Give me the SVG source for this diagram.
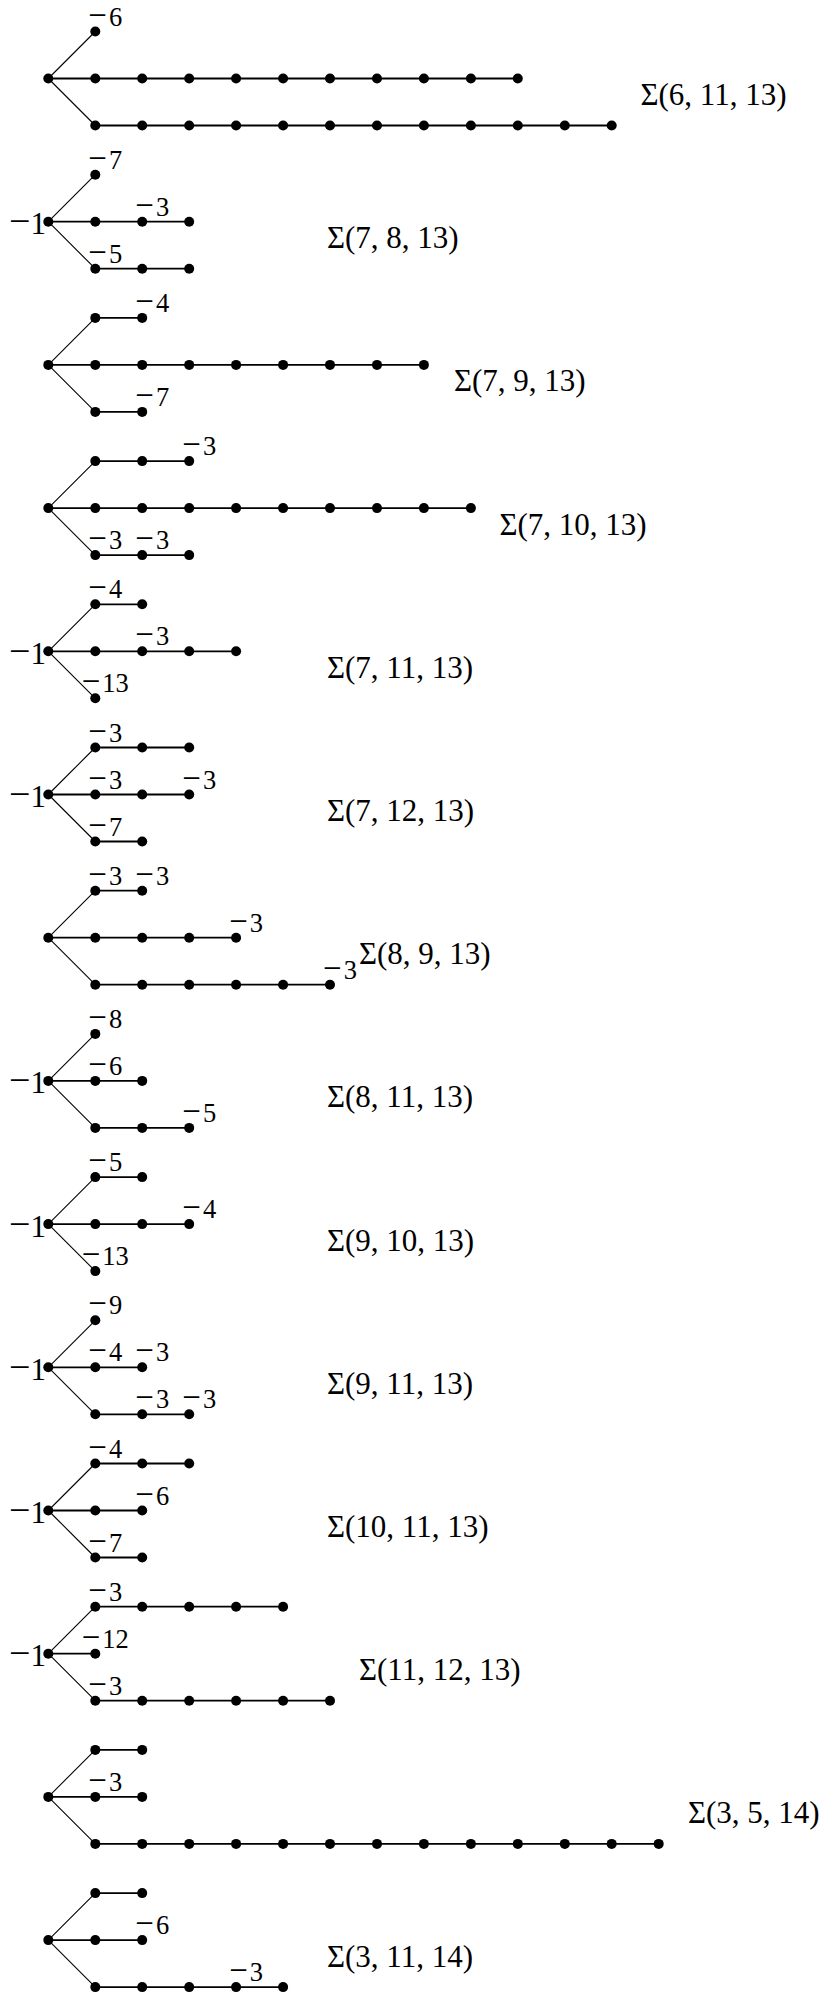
<svg xmlns="http://www.w3.org/2000/svg" width="826" height="1993" viewBox="0 0 826 1993">
<style>
.e{stroke:#000;stroke-width:1.8;fill:none}
.d{stroke:#000;stroke-width:1.1;fill:none}
circle{fill:#000}
text{font-family:"Liberation Serif","Times New Roman",serif;fill:#000}
.s{font-size:26.5px;text-anchor:middle}
.m{font-size:33px}
.r{font-size:31px;text-anchor:end}
.rm{font-size:38px}
.L{font-size:31px}
</style>
<rect width="826" height="1993" fill="#fff"/>
<g id="connectors">
<g transform="translate(0,78.5)"><path class="d" d="M48.3 0L95.3-47M48.3 0L95.3 47"/><path class="e" d="M48.3 0H517.8M95.3 47H611.7"/></g>
<g transform="translate(0,221.7)"><path class="d" d="M48.3 0L95.3-47M48.3 0L95.3 47"/><path class="e" d="M48.3 0H189.2M95.3 47H189.2"/></g>
<g transform="translate(0,364.9)"><path class="d" d="M48.3 0L95.3-47M48.3 0L95.3 47"/><path class="e" d="M95.3-47H142.2M48.3 0H423.9M95.3 47H142.2"/></g>
<g transform="translate(0,508.1)"><path class="d" d="M48.3 0L95.3-47M48.3 0L95.3 47"/><path class="e" d="M95.3-47H189.2M48.3 0H470.9M95.3 47H189.2"/></g>
<g transform="translate(0,651.3)"><path class="d" d="M48.3 0L95.3-47M48.3 0L95.3 47"/><path class="e" d="M95.3-47H142.2M48.3 0H236.1"/></g>
<g transform="translate(0,794.5)"><path class="d" d="M48.3 0L95.3-47M48.3 0L95.3 47"/><path class="e" d="M95.3-47H189.2M48.3 0H189.2M95.3 47H142.2"/></g>
<g transform="translate(0,937.7)"><path class="d" d="M48.3 0L95.3-47M48.3 0L95.3 47"/><path class="e" d="M95.3-47H142.2M48.3 0H236.1M95.3 47H330"/></g>
<g transform="translate(0,1080.9)"><path class="d" d="M48.3 0L95.3-47M48.3 0L95.3 47"/><path class="e" d="M48.3 0H142.2M95.3 47H189.2"/></g>
<g transform="translate(0,1224.1)"><path class="d" d="M48.3 0L95.3-47M48.3 0L95.3 47"/><path class="e" d="M95.3-47H142.2M48.3 0H189.2"/></g>
<g transform="translate(0,1367.3)"><path class="d" d="M48.3 0L95.3-47M48.3 0L95.3 47"/><path class="e" d="M48.3 0H142.2M95.3 47H189.2"/></g>
<g transform="translate(0,1510.5)"><path class="d" d="M48.3 0L95.3-47M48.3 0L95.3 47"/><path class="e" d="M95.3-47H189.2M48.3 0H142.2M95.3 47H142.2"/></g>
<g transform="translate(0,1653.7)"><path class="d" d="M48.3 0L95.3-47M48.3 0L95.3 47"/><path class="e" d="M95.3-47H283.1M48.3 0H95.3M95.3 47H330"/></g>
<g transform="translate(0,1796.9)"><path class="d" d="M48.3 0L95.3-47M48.3 0L95.3 47"/><path class="e" d="M95.3-47H142.2M48.3 0H142.2M95.3 47H658.7"/></g>
<g transform="translate(0,1940.1)"><path class="d" d="M48.3 0L95.3-47M48.3 0L95.3 47"/><path class="e" d="M95.3-47H142.2M48.3 0H142.2M95.3 47H283.1"/></g>
</g>

<g id="diagram1" transform="translate(0,78.5)">
<g id="d1-root"><circle cx="48.3" cy="0" r="5"/></g>
<g id="d1-t1"><circle cx="95.3" cy="-47" r="5"/><text class="s" x="105.3" y="-53"><tspan class="m">−</tspan><tspan dx="2">6</tspan></text></g>
<g id="d1-m1"><circle cx="95.3" cy="0" r="5"/></g>
<g id="d1-m2"><circle cx="142.2" cy="0" r="5"/></g>
<g id="d1-m3"><circle cx="189.2" cy="0" r="5"/></g>
<g id="d1-m4"><circle cx="236.1" cy="0" r="5"/></g>
<g id="d1-m5"><circle cx="283.1" cy="0" r="5"/></g>
<g id="d1-m6"><circle cx="330" cy="0" r="5"/></g>
<g id="d1-m7"><circle cx="377" cy="0" r="5"/></g>
<g id="d1-m8"><circle cx="423.9" cy="0" r="5"/></g>
<g id="d1-m9"><circle cx="470.9" cy="0" r="5"/></g>
<g id="d1-m10"><circle cx="517.8" cy="0" r="5"/></g>
<g id="d1-b1"><circle cx="95.3" cy="47" r="5"/></g>
<g id="d1-b2"><circle cx="142.2" cy="47" r="5"/></g>
<g id="d1-b3"><circle cx="189.2" cy="47" r="5"/></g>
<g id="d1-b4"><circle cx="236.1" cy="47" r="5"/></g>
<g id="d1-b5"><circle cx="283.1" cy="47" r="5"/></g>
<g id="d1-b6"><circle cx="330" cy="47" r="5"/></g>
<g id="d1-b7"><circle cx="377" cy="47" r="5"/></g>
<g id="d1-b8"><circle cx="423.9" cy="47" r="5"/></g>
<g id="d1-b9"><circle cx="470.9" cy="47" r="5"/></g>
<g id="d1-b10"><circle cx="517.8" cy="47" r="5"/></g>
<g id="d1-b11"><circle cx="564.8" cy="47" r="5"/></g>
<g id="d1-b12"><circle cx="611.7" cy="47" r="5"/></g>
<g id="d1-title"><text class="L" x="640.5" y="26.5">Σ(6, 11, 13)</text></g>
</g>

<g id="diagram2" transform="translate(0,221.7)">
<g id="d2-root"><circle cx="48.3" cy="0" r="5"/><text class="r" x="46" y="12.5"><tspan class="rm">−</tspan>1</text></g>
<g id="d2-t1"><circle cx="95.3" cy="-47" r="5"/><text class="s" x="105.3" y="-53"><tspan class="m">−</tspan><tspan dx="2">7</tspan></text></g>
<g id="d2-m1"><circle cx="95.3" cy="0" r="5"/></g>
<g id="d2-m2"><circle cx="142.2" cy="0" r="5"/><text class="s" x="152.2" y="-6"><tspan class="m">−</tspan><tspan dx="2">3</tspan></text></g>
<g id="d2-m3"><circle cx="189.2" cy="0" r="5"/></g>
<g id="d2-b1"><circle cx="95.3" cy="47" r="5"/><text class="s" x="105.3" y="41"><tspan class="m">−</tspan><tspan dx="2">5</tspan></text></g>
<g id="d2-b2"><circle cx="142.2" cy="47" r="5"/></g>
<g id="d2-b3"><circle cx="189.2" cy="47" r="5"/></g>
<g id="d2-title"><text class="L" x="327" y="26.5">Σ(7, 8, 13)</text></g>
</g>

<g id="diagram3" transform="translate(0,364.9)">
<g id="d3-root"><circle cx="48.3" cy="0" r="5"/></g>
<g id="d3-t1"><circle cx="95.3" cy="-47" r="5"/></g>
<g id="d3-t2"><circle cx="142.2" cy="-47" r="5"/><text class="s" x="152.2" y="-53"><tspan class="m">−</tspan><tspan dx="2">4</tspan></text></g>
<g id="d3-m1"><circle cx="95.3" cy="0" r="5"/></g>
<g id="d3-m2"><circle cx="142.2" cy="0" r="5"/></g>
<g id="d3-m3"><circle cx="189.2" cy="0" r="5"/></g>
<g id="d3-m4"><circle cx="236.1" cy="0" r="5"/></g>
<g id="d3-m5"><circle cx="283.1" cy="0" r="5"/></g>
<g id="d3-m6"><circle cx="330" cy="0" r="5"/></g>
<g id="d3-m7"><circle cx="377" cy="0" r="5"/></g>
<g id="d3-m8"><circle cx="423.9" cy="0" r="5"/></g>
<g id="d3-b1"><circle cx="95.3" cy="47" r="5"/></g>
<g id="d3-b2"><circle cx="142.2" cy="47" r="5"/><text class="s" x="152.2" y="41"><tspan class="m">−</tspan><tspan dx="2">7</tspan></text></g>
<g id="d3-title"><text class="L" x="454" y="26.5">Σ(7, 9, 13)</text></g>
</g>

<g id="diagram4" transform="translate(0,508.1)">
<g id="d4-root"><circle cx="48.3" cy="0" r="5"/></g>
<g id="d4-t1"><circle cx="95.3" cy="-47" r="5"/></g>
<g id="d4-t2"><circle cx="142.2" cy="-47" r="5"/></g>
<g id="d4-t3"><circle cx="189.2" cy="-47" r="5"/><text class="s" x="199.2" y="-53"><tspan class="m">−</tspan><tspan dx="2">3</tspan></text></g>
<g id="d4-m1"><circle cx="95.3" cy="0" r="5"/></g>
<g id="d4-m2"><circle cx="142.2" cy="0" r="5"/></g>
<g id="d4-m3"><circle cx="189.2" cy="0" r="5"/></g>
<g id="d4-m4"><circle cx="236.1" cy="0" r="5"/></g>
<g id="d4-m5"><circle cx="283.1" cy="0" r="5"/></g>
<g id="d4-m6"><circle cx="330" cy="0" r="5"/></g>
<g id="d4-m7"><circle cx="377" cy="0" r="5"/></g>
<g id="d4-m8"><circle cx="423.9" cy="0" r="5"/></g>
<g id="d4-m9"><circle cx="470.9" cy="0" r="5"/></g>
<g id="d4-b1"><circle cx="95.3" cy="47" r="5"/><text class="s" x="105.3" y="41"><tspan class="m">−</tspan><tspan dx="2">3</tspan></text></g>
<g id="d4-b2"><circle cx="142.2" cy="47" r="5"/><text class="s" x="152.2" y="41"><tspan class="m">−</tspan><tspan dx="2">3</tspan></text></g>
<g id="d4-b3"><circle cx="189.2" cy="47" r="5"/></g>
<g id="d4-title"><text class="L" x="499.5" y="26.5">Σ(7, 10, 13)</text></g>
</g>

<g id="diagram5" transform="translate(0,651.3)">
<g id="d5-root"><circle cx="48.3" cy="0" r="5"/><text class="r" x="46" y="12.5"><tspan class="rm">−</tspan>1</text></g>
<g id="d5-t1"><circle cx="95.3" cy="-47" r="5"/><text class="s" x="105.3" y="-53"><tspan class="m">−</tspan><tspan dx="2">4</tspan></text></g>
<g id="d5-t2"><circle cx="142.2" cy="-47" r="5"/></g>
<g id="d5-m1"><circle cx="95.3" cy="0" r="5"/></g>
<g id="d5-m2"><circle cx="142.2" cy="0" r="5"/><text class="s" x="152.2" y="-6"><tspan class="m">−</tspan><tspan dx="2">3</tspan></text></g>
<g id="d5-m3"><circle cx="189.2" cy="0" r="5"/></g>
<g id="d5-m4"><circle cx="236.1" cy="0" r="5"/></g>
<g id="d5-b1"><circle cx="95.3" cy="47" r="5"/><text class="s" x="105.3" y="41"><tspan class="m">−</tspan><tspan dx="2">13</tspan></text></g>
<g id="d5-title"><text class="L" x="327" y="26.5">Σ(7, 11, 13)</text></g>
</g>

<g id="diagram6" transform="translate(0,794.5)">
<g id="d6-root"><circle cx="48.3" cy="0" r="5"/><text class="r" x="46" y="12.5"><tspan class="rm">−</tspan>1</text></g>
<g id="d6-t1"><circle cx="95.3" cy="-47" r="5"/><text class="s" x="105.3" y="-53"><tspan class="m">−</tspan><tspan dx="2">3</tspan></text></g>
<g id="d6-t2"><circle cx="142.2" cy="-47" r="5"/></g>
<g id="d6-t3"><circle cx="189.2" cy="-47" r="5"/></g>
<g id="d6-m1"><circle cx="95.3" cy="0" r="5"/><text class="s" x="105.3" y="-6"><tspan class="m">−</tspan><tspan dx="2">3</tspan></text></g>
<g id="d6-m2"><circle cx="142.2" cy="0" r="5"/></g>
<g id="d6-m3"><circle cx="189.2" cy="0" r="5"/><text class="s" x="199.2" y="-6"><tspan class="m">−</tspan><tspan dx="2">3</tspan></text></g>
<g id="d6-b1"><circle cx="95.3" cy="47" r="5"/><text class="s" x="105.3" y="41"><tspan class="m">−</tspan><tspan dx="2">7</tspan></text></g>
<g id="d6-b2"><circle cx="142.2" cy="47" r="5"/></g>
<g id="d6-title"><text class="L" x="327" y="26.5">Σ(7, 12, 13)</text></g>
</g>

<g id="diagram7" transform="translate(0,937.7)">
<g id="d7-root"><circle cx="48.3" cy="0" r="5"/></g>
<g id="d7-t1"><circle cx="95.3" cy="-47" r="5"/><text class="s" x="105.3" y="-53"><tspan class="m">−</tspan><tspan dx="2">3</tspan></text></g>
<g id="d7-t2"><circle cx="142.2" cy="-47" r="5"/><text class="s" x="152.2" y="-53"><tspan class="m">−</tspan><tspan dx="2">3</tspan></text></g>
<g id="d7-m1"><circle cx="95.3" cy="0" r="5"/></g>
<g id="d7-m2"><circle cx="142.2" cy="0" r="5"/></g>
<g id="d7-m3"><circle cx="189.2" cy="0" r="5"/></g>
<g id="d7-m4"><circle cx="236.1" cy="0" r="5"/><text class="s" x="246.1" y="-6"><tspan class="m">−</tspan><tspan dx="2">3</tspan></text></g>
<g id="d7-b1"><circle cx="95.3" cy="47" r="5"/></g>
<g id="d7-b2"><circle cx="142.2" cy="47" r="5"/></g>
<g id="d7-b3"><circle cx="189.2" cy="47" r="5"/></g>
<g id="d7-b4"><circle cx="236.1" cy="47" r="5"/></g>
<g id="d7-b5"><circle cx="283.1" cy="47" r="5"/></g>
<g id="d7-b6"><circle cx="330" cy="47" r="5"/><text class="s" x="340" y="41"><tspan class="m">−</tspan><tspan dx="2">3</tspan></text></g>
<g id="d7-title"><text class="L" x="359" y="26.5">Σ(8, 9, 13)</text></g>
</g>

<g id="diagram8" transform="translate(0,1080.9)">
<g id="d8-root"><circle cx="48.3" cy="0" r="5"/><text class="r" x="46" y="12.5"><tspan class="rm">−</tspan>1</text></g>
<g id="d8-t1"><circle cx="95.3" cy="-47" r="5"/><text class="s" x="105.3" y="-53"><tspan class="m">−</tspan><tspan dx="2">8</tspan></text></g>
<g id="d8-m1"><circle cx="95.3" cy="0" r="5"/><text class="s" x="105.3" y="-6"><tspan class="m">−</tspan><tspan dx="2">6</tspan></text></g>
<g id="d8-m2"><circle cx="142.2" cy="0" r="5"/></g>
<g id="d8-b1"><circle cx="95.3" cy="47" r="5"/></g>
<g id="d8-b2"><circle cx="142.2" cy="47" r="5"/></g>
<g id="d8-b3"><circle cx="189.2" cy="47" r="5"/><text class="s" x="199.2" y="41"><tspan class="m">−</tspan><tspan dx="2">5</tspan></text></g>
<g id="d8-title"><text class="L" x="327" y="26.5">Σ(8, 11, 13)</text></g>
</g>

<g id="diagram9" transform="translate(0,1224.1)">
<g id="d9-root"><circle cx="48.3" cy="0" r="5"/><text class="r" x="46" y="12.5"><tspan class="rm">−</tspan>1</text></g>
<g id="d9-t1"><circle cx="95.3" cy="-47" r="5"/><text class="s" x="105.3" y="-53"><tspan class="m">−</tspan><tspan dx="2">5</tspan></text></g>
<g id="d9-t2"><circle cx="142.2" cy="-47" r="5"/></g>
<g id="d9-m1"><circle cx="95.3" cy="0" r="5"/></g>
<g id="d9-m2"><circle cx="142.2" cy="0" r="5"/></g>
<g id="d9-m3"><circle cx="189.2" cy="0" r="5"/><text class="s" x="199.2" y="-6"><tspan class="m">−</tspan><tspan dx="2">4</tspan></text></g>
<g id="d9-b1"><circle cx="95.3" cy="47" r="5"/><text class="s" x="105.3" y="41"><tspan class="m">−</tspan><tspan dx="2">13</tspan></text></g>
<g id="d9-title"><text class="L" x="327" y="26.5">Σ(9, 10, 13)</text></g>
</g>

<g id="diagram10" transform="translate(0,1367.3)">
<g id="d10-root"><circle cx="48.3" cy="0" r="5"/><text class="r" x="46" y="12.5"><tspan class="rm">−</tspan>1</text></g>
<g id="d10-t1"><circle cx="95.3" cy="-47" r="5"/><text class="s" x="105.3" y="-53"><tspan class="m">−</tspan><tspan dx="2">9</tspan></text></g>
<g id="d10-m1"><circle cx="95.3" cy="0" r="5"/><text class="s" x="105.3" y="-6"><tspan class="m">−</tspan><tspan dx="2">4</tspan></text></g>
<g id="d10-m2"><circle cx="142.2" cy="0" r="5"/><text class="s" x="152.2" y="-6"><tspan class="m">−</tspan><tspan dx="2">3</tspan></text></g>
<g id="d10-b1"><circle cx="95.3" cy="47" r="5"/></g>
<g id="d10-b2"><circle cx="142.2" cy="47" r="5"/><text class="s" x="152.2" y="41"><tspan class="m">−</tspan><tspan dx="2">3</tspan></text></g>
<g id="d10-b3"><circle cx="189.2" cy="47" r="5"/><text class="s" x="199.2" y="41"><tspan class="m">−</tspan><tspan dx="2">3</tspan></text></g>
<g id="d10-title"><text class="L" x="327" y="26.5">Σ(9, 11, 13)</text></g>
</g>

<g id="diagram11" transform="translate(0,1510.5)">
<g id="d11-root"><circle cx="48.3" cy="0" r="5"/><text class="r" x="46" y="12.5"><tspan class="rm">−</tspan>1</text></g>
<g id="d11-t1"><circle cx="95.3" cy="-47" r="5"/><text class="s" x="105.3" y="-53"><tspan class="m">−</tspan><tspan dx="2">4</tspan></text></g>
<g id="d11-t2"><circle cx="142.2" cy="-47" r="5"/></g>
<g id="d11-t3"><circle cx="189.2" cy="-47" r="5"/></g>
<g id="d11-m1"><circle cx="95.3" cy="0" r="5"/></g>
<g id="d11-m2"><circle cx="142.2" cy="0" r="5"/><text class="s" x="152.2" y="-6"><tspan class="m">−</tspan><tspan dx="2">6</tspan></text></g>
<g id="d11-b1"><circle cx="95.3" cy="47" r="5"/><text class="s" x="105.3" y="41"><tspan class="m">−</tspan><tspan dx="2">7</tspan></text></g>
<g id="d11-b2"><circle cx="142.2" cy="47" r="5"/></g>
<g id="d11-title"><text class="L" x="327" y="26.5">Σ(10, 11, 13)</text></g>
</g>

<g id="diagram12" transform="translate(0,1653.7)">
<g id="d12-root"><circle cx="48.3" cy="0" r="5"/><text class="r" x="46" y="12.5"><tspan class="rm">−</tspan>1</text></g>
<g id="d12-t1"><circle cx="95.3" cy="-47" r="5"/><text class="s" x="105.3" y="-53"><tspan class="m">−</tspan><tspan dx="2">3</tspan></text></g>
<g id="d12-t2"><circle cx="142.2" cy="-47" r="5"/></g>
<g id="d12-t3"><circle cx="189.2" cy="-47" r="5"/></g>
<g id="d12-t4"><circle cx="236.1" cy="-47" r="5"/></g>
<g id="d12-t5"><circle cx="283.1" cy="-47" r="5"/></g>
<g id="d12-m1"><circle cx="95.3" cy="0" r="5"/><text class="s" x="105.3" y="-6"><tspan class="m">−</tspan><tspan dx="2">12</tspan></text></g>
<g id="d12-b1"><circle cx="95.3" cy="47" r="5"/><text class="s" x="105.3" y="41"><tspan class="m">−</tspan><tspan dx="2">3</tspan></text></g>
<g id="d12-b2"><circle cx="142.2" cy="47" r="5"/></g>
<g id="d12-b3"><circle cx="189.2" cy="47" r="5"/></g>
<g id="d12-b4"><circle cx="236.1" cy="47" r="5"/></g>
<g id="d12-b5"><circle cx="283.1" cy="47" r="5"/></g>
<g id="d12-b6"><circle cx="330" cy="47" r="5"/></g>
<g id="d12-title"><text class="L" x="359" y="26.5">Σ(11, 12, 13)</text></g>
</g>

<g id="diagram13" transform="translate(0,1796.9)">
<g id="d13-root"><circle cx="48.3" cy="0" r="5"/></g>
<g id="d13-t1"><circle cx="95.3" cy="-47" r="5"/></g>
<g id="d13-t2"><circle cx="142.2" cy="-47" r="5"/></g>
<g id="d13-m1"><circle cx="95.3" cy="0" r="5"/><text class="s" x="105.3" y="-6"><tspan class="m">−</tspan><tspan dx="2">3</tspan></text></g>
<g id="d13-m2"><circle cx="142.2" cy="0" r="5"/></g>
<g id="d13-b1"><circle cx="95.3" cy="47" r="5"/></g>
<g id="d13-b2"><circle cx="142.2" cy="47" r="5"/></g>
<g id="d13-b3"><circle cx="189.2" cy="47" r="5"/></g>
<g id="d13-b4"><circle cx="236.1" cy="47" r="5"/></g>
<g id="d13-b5"><circle cx="283.1" cy="47" r="5"/></g>
<g id="d13-b6"><circle cx="330" cy="47" r="5"/></g>
<g id="d13-b7"><circle cx="377" cy="47" r="5"/></g>
<g id="d13-b8"><circle cx="423.9" cy="47" r="5"/></g>
<g id="d13-b9"><circle cx="470.9" cy="47" r="5"/></g>
<g id="d13-b10"><circle cx="517.8" cy="47" r="5"/></g>
<g id="d13-b11"><circle cx="564.8" cy="47" r="5"/></g>
<g id="d13-b12"><circle cx="611.7" cy="47" r="5"/></g>
<g id="d13-b13"><circle cx="658.7" cy="47" r="5"/></g>
<g id="d13-title"><text class="L" x="688" y="26.5">Σ(3, 5, 14)</text></g>
</g>

<g id="diagram14" transform="translate(0,1940.1)">
<g id="d14-root"><circle cx="48.3" cy="0" r="5"/></g>
<g id="d14-t1"><circle cx="95.3" cy="-47" r="5"/></g>
<g id="d14-t2"><circle cx="142.2" cy="-47" r="5"/></g>
<g id="d14-m1"><circle cx="95.3" cy="0" r="5"/></g>
<g id="d14-m2"><circle cx="142.2" cy="0" r="5"/><text class="s" x="152.2" y="-6"><tspan class="m">−</tspan><tspan dx="2">6</tspan></text></g>
<g id="d14-b1"><circle cx="95.3" cy="47" r="5"/></g>
<g id="d14-b2"><circle cx="142.2" cy="47" r="5"/></g>
<g id="d14-b3"><circle cx="189.2" cy="47" r="5"/></g>
<g id="d14-b4"><circle cx="236.1" cy="47" r="5"/><text class="s" x="246.1" y="41"><tspan class="m">−</tspan><tspan dx="2">3</tspan></text></g>
<g id="d14-b5"><circle cx="283.1" cy="47" r="5"/></g>
<g id="d14-title"><text class="L" x="327" y="26.5">Σ(3, 11, 14)</text></g>
</g>
</svg>
